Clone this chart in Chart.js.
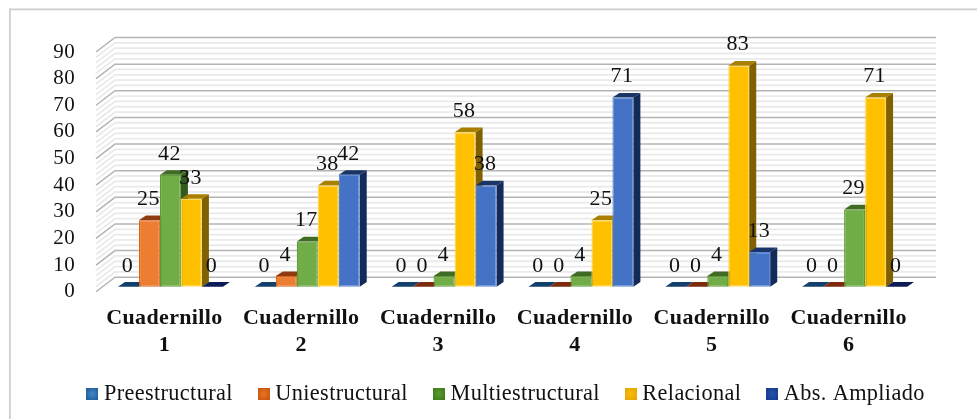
<!DOCTYPE html>
<html>
<head>
<meta charset="utf-8">
<style>
html,body{margin:0;padding:0;background:#fff;}
#wrap{position:relative;width:977px;height:419px;overflow:hidden;}
canvas{display:block;filter:blur(0.35px);}
</style>
<script src="https://cdn.jsdelivr.net/npm/chart.js@4"></script>
</head>
<body>
<div id="wrap"><canvas id="c" width="977" height="419"></canvas></div>
<script>
const categories = [['Cuadernillo','1'],['Cuadernillo','2'],['Cuadernillo','3'],['Cuadernillo','4'],['Cuadernillo','5'],['Cuadernillo','6']];
const seriesNames = ['Preestructural','Uniestructural','Multiestructural','Relacional','Abs. Ampliado'];
const preestructural = [0,0,0,0,0,0];
const uniestructural = [25,4,0,0,0,0];
const multiestructural = [42,17,4,4,4,29];
const relacional = [33,38,58,25,83,71];
const absAmpliado = [0,42,38,71,13,0];
const seriesValues = [preestructural,uniestructural,multiestructural,relacional,absAmpliado];

const frontColors = ['#2E75B6','#ED7D31','#70AD47','#FFC000','#4472C4'];
const edgeColors  = ['#2A6AA6','#D8661C','#5E9A38','#FFD84F','#5B8AD8'];
const topColors   = ['#123F6B','#8F3A10','#3F6B24','#A97F00','#1B3468'];
const zeroColors  = ['#123F6B','#7E2A0C','#3F6B24','#A97F00','#0E1C56'];
const sideColors  = ['#0F3357','#7A3410','#335A1E','#806000','#142A58'];
const legendEdge  = ['#1F5A94','#C4540F','#3E7A1C','#E5A500','#163A8C'];
const legendFill  = ['#3C84C4','#E8701F','#559A2D','#F7B90A','#2350A8'];

const FONT = '"Liberation Serif", serif';
const DEPTH_X = 7, DEPTH_Y = 4.7;
const BACK_X = 13, BACK_Y = -9.5, FRONT_X = -6, FRONT_Y = 5;
const LEGEND_SHIFT_X = 46.75, LEGEND_SHIFT_Y = -4.5;
const SPACING = '0.35px';

function legendKey(i){
  const c = document.createElement('canvas');
  c.width = 12; c.height = 12;
  const g = c.getContext('2d');
  const r = g.createRadialGradient(6,6,1,6,6,8);
  r.addColorStop(0,legendFill[i]); r.addColorStop(1,legendEdge[i]);
  g.fillStyle = r; g.fillRect(0,0,12,12);
  return c;
}
const legendKeys = seriesNames.map((_,i)=>legendKey(i));

function poly(ctx,pts,fill){
  ctx.beginPath();
  pts.forEach((p,i)=> i?ctx.lineTo(p[0],p[1]):ctx.moveTo(p[0],p[1]));
  ctx.closePath();
  ctx.fillStyle = fill; ctx.fill();
}

const threeD = {
  id:'threeD',
  beforeLayout(chart){ chart.ctx.letterSpacing = SPACING; },
  afterLayout(chart){
    const l = chart.legend;
    l.left += LEGEND_SHIFT_X; l.right += LEGEND_SHIFT_X;
    l.top += LEGEND_SHIFT_Y; l.bottom += LEGEND_SHIFT_Y;
  },
  beforeDraw(chart){
    const ctx = chart.ctx;
    ctx.letterSpacing = SPACING;
    ctx.save();
    ctx.fillStyle='#fff'; ctx.fillRect(0,0,chart.width,chart.height);
    ctx.fillStyle='#CFCFCF';
    ctx.fillRect(9,8.5,chart.width-9,1.8);
    ctx.fillRect(9,8.5,1.8,chart.height-8.5);
    ctx.restore();
  },
  beforeDatasetsDraw(chart){
    const ctx = chart.ctx, y = chart.scales.y, a = chart.chartArea;
    const left = a.left, right = a.right;
    ctx.save();
    for (let pass=0; pass<2; pass++){
      for (let v=0; v<=90; v+=2){
        const major = v%10===0;
        if ((pass===1)!==major) continue;
        const py = y.getPixelForValue(v);
        ctx.strokeStyle = major ? '#B4B4B4' : '#EAEAEA';
        ctx.lineWidth = major ? 1.5 : 1.8;
        ctx.beginPath();
        ctx.moveTo(left+FRONT_X, py+FRONT_Y);
        ctx.lineTo(left+BACK_X, py+BACK_Y);
        ctx.lineTo(right+BACK_X, py+BACK_Y);
        ctx.stroke();
      }
    }
    ctx.restore();
  },
  beforeDatasetDraw(){ return false; },
  afterDatasetsDraw(chart){
    const ctx = chart.ctx;
    // left-to-right so each bar's front covers the side face of the one before it
    seriesNames.forEach((_,i)=>{
      const meta = chart.getDatasetMeta(i);
      ctx.save();
      meta.data.forEach((b,k)=>{
        const hw = b.width/2, l = b.x-hw, r = b.x+hw, t = b.y, bt = b.base;
        const zero = seriesValues[i][k]===0;
        if (!zero) poly(ctx,[[r,t],[r+DEPTH_X,t-DEPTH_Y],[r+DEPTH_X,bt-DEPTH_Y],[r,bt]],sideColors[i]);
        poly(ctx,[[l,t],[l+DEPTH_X,t-DEPTH_Y],[r+DEPTH_X,t-DEPTH_Y],[r,t]],zero?zeroColors[i]:topColors[i]);
      });
      ctx.restore();
      meta.controller.draw();
    });
    ctx.save();
    ctx.font = '22px '+FONT;
    ctx.fillStyle = '#111';
    ctx.textAlign = 'center';
    ctx.textBaseline = 'middle';
    chart.data.datasets.forEach((d,i)=>{
      chart.getDatasetMeta(i).data.forEach((b,k)=>{
        ctx.fillText(String(d.data[k]), b.x-1, b.y-21);
      });
    });
    ctx.restore();
  }
};

new Chart(document.getElementById('c'),{
  type:'bar',
  data:{
    labels:categories,
    datasets:seriesNames.map((n,i)=>({
      label:n,
      data:seriesValues[i],
      backgroundColor:frontColors[i],
      borderColor:edgeColors[i],
      borderWidth:c=>c.raw===0?0:1.2,
      borderSkipped:false,
      categoryPercentage:0.767,
      barPercentage:1
    }))
  },
  plugins:[threeD],
  options:{
    responsive:false,
    animation:false,
    layout:{padding:{left:0,right:54,top:47,bottom:-0.54}},
    plugins:{
      tooltip:{enabled:false},
      title:{display:false},
      legend:{
        display:true,
        position:'bottom',
        labels:{
          color:'#111',
          font:{family:FONT,size:22.3},
          padding:30.5,
          boxWidth:1,
          boxHeight:1,
          usePointStyle:true,
          generateLabels(chart){
            return chart.data.datasets.map((d,i)=>({
              text:d.label,
              datasetIndex:i,
              pointStyle:legendKeys[i],
              fontColor:'#111',
              fillStyle:frontColors[i],
              strokeStyle:frontColors[i],
              lineWidth:0
            }));
          }
        }
      }
    },
    scales:{
      x:{
        type:'category',
        afterFit(s){s.height=70;s.paddingLeft=0;s.paddingRight=0;},
        grid:{display:false,drawTicks:false},
        border:{display:false},
        ticks:{
          autoSkip:false,maxRotation:0,minRotation:0,
          color:'#111',
          padding:18,
          labelOffset:-6,
          font:{family:FONT,size:22,weight:'bold',lineHeight:'27px'}
        }
      },
      y:{
        type:'linear',
        min:0,max:90,
        afterFit(s){s.width=102;s.paddingTop=0;s.paddingBottom=0;},
        grid:{display:false,drawTicks:false},
        border:{display:false},
        ticks:{
          stepSize:10,
          autoSkip:false,
          color:'#111',
          padding:27,
          labelOffset:5,
          font:{family:FONT,size:21}
        }
      }
    }
  }
});
</script>
</body>
</html>
